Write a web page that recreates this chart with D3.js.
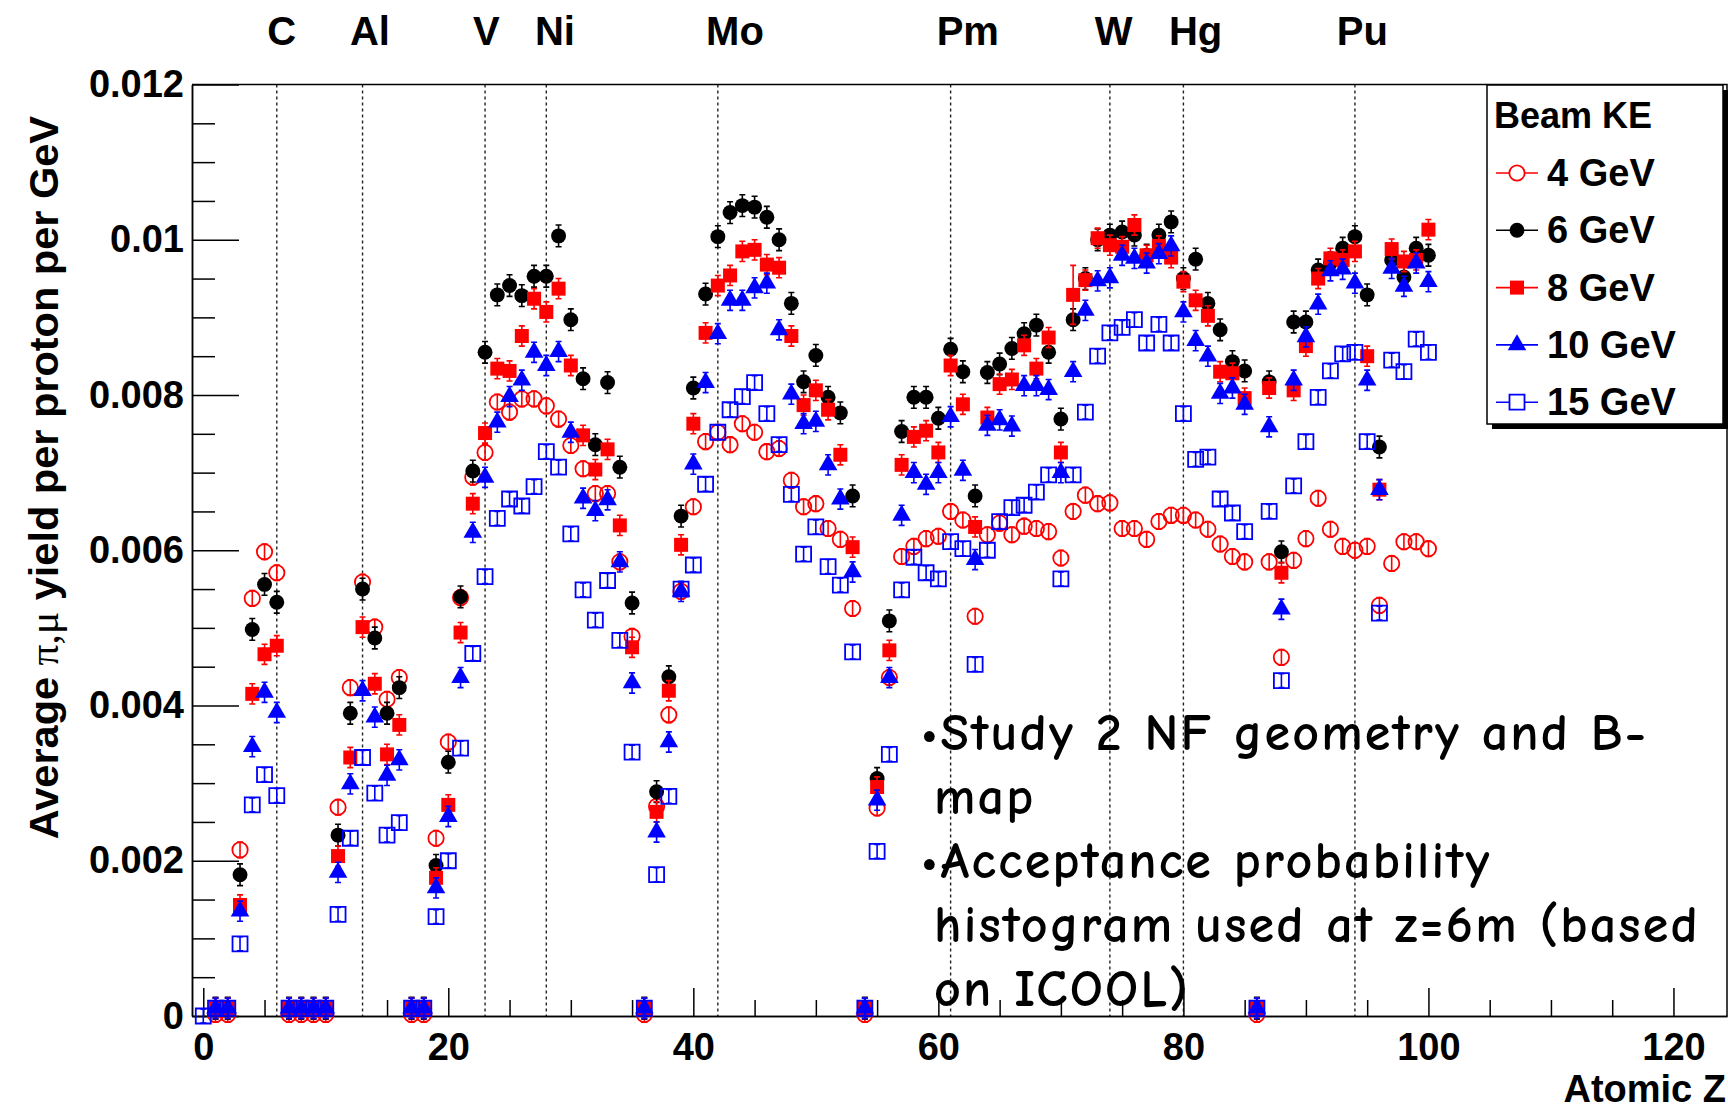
<!DOCTYPE html>
<html>
<head>
<meta charset="utf-8">
<script src="https://cdn.jsdelivr.net/npm/d3@7"></script>
<style>
  body { margin: 0; background: #fff; }
  svg { display: block; }
  .axis text { font-family: "Liberation Sans", Arial, sans-serif; font-weight: bold; font-size: 38px; fill: #000; }
  .axis path, .axis line { stroke: #000; stroke-width: 1.5; }
</style>
</head>
<body>
<div id="chart"></div>
<script>
var svgWidth = 1728;
var svgHeight = 1111;

// plot frame in pixels
var frame = { left: 192, right: 1727, top: 84.5, bottom: 1016 };

// ---- data ----
var atomicZ = [
  1, 2, 3, 4, 5, 6, 7, 8, 9, 10, 11, 12, 13, 14, 15, 16, 17, 18, 19, 20,
  21, 22, 23, 24, 25, 26, 27, 28, 29, 30, 31, 32, 33, 34, 35, 36, 37, 38, 39, 40,
  41, 42, 43, 44, 45, 46, 47, 48, 49, 50, 51, 52, 53, 54, 55, 56, 57, 58, 59, 60,
  61, 62, 63, 64, 65, 66, 67, 68, 69, 70, 71, 72, 73, 74, 75, 76, 77, 78, 79, 80,
  81, 82, 83, 84, 85, 86, 87, 88, 89, 90, 91, 92, 93, 94, 95, 96, 97, 98, 99, 100
];

// 15 GeV also has a point at Z = 0
var atomicZ15 = [0].concat(atomicZ);

var yield4 = [
  0.00002, 0.00002, 0.00214, 0.00538, 0.00598, 0.00571, 0.00002, 0.00002, 0.00002, 0.00002,
  0.00269, 0.00423, 0.00559, 0.00501, 0.00408, 0.00436, 0.00002, 0.00002, 0.00229, 0.00353,
  0.00539, 0.00694, 0.00726, 0.00791, 0.00778, 0.00795, 0.00795, 0.00786, 0.00769, 0.00735,
  0.00705, 0.00673, 0.00673, 0.00585, 0.00489, 0.00002, 0.0027, 0.00388, 0.00547, 0.00656,
  0.0074, 0.00752, 0.00736, 0.00763, 0.00752, 0.00727, 0.00731, 0.0069, 0.00656, 0.0066,
  0.00628, 0.00614, 0.00525, 0.00002, 0.00268, 0.00436, 0.00592, 0.00605, 0.00615, 0.00618,
  0.0065, 0.00639, 0.00515, 0.0062, 0.00635, 0.0062, 0.00631, 0.00628, 0.00624, 0.0059,
  0.0065, 0.00671, 0.0066, 0.00661, 0.00628, 0.00628, 0.00614, 0.00637, 0.00645, 0.00645,
  0.00639, 0.00627, 0.00608, 0.00592, 0.00585, 0.00002, 0.00585, 0.00462, 0.00587, 0.00615,
  0.00667, 0.00627, 0.00605, 0.006, 0.00605, 0.00529, 0.00583, 0.00611, 0.00611, 0.00602
];

var yield6 = [
  0.0001, 0.0001, 0.00182, 0.00498, 0.00556, 0.00533, 0.0001, 0.0001, 0.0001, 0.0001,
  0.00233, 0.0039, 0.0055, 0.00487, 0.0039, 0.00423, 0.0001, 0.0001, 0.00194, 0.00327,
  0.0054, 0.00702, 0.00855, 0.00929, 0.00941, 0.00928, 0.00953, 0.00953, 0.01005, 0.00897,
  0.00821, 0.00736, 0.00816, 0.00707, 0.00532, 0.0001, 0.00289, 0.00437, 0.00644, 0.00809,
  0.0093, 0.01004, 0.01035, 0.01044, 0.01042, 0.01029, 0.01, 0.00918, 0.00817, 0.00851,
  0.00797, 0.00777, 0.0067, 0.0001, 0.00306, 0.00509, 0.00753, 0.00797, 0.00797, 0.0077,
  0.00859, 0.0083, 0.0067, 0.00829, 0.0084, 0.0086, 0.00879, 0.0089, 0.00855, 0.00769,
  0.00897, 0.0095, 0.01, 0.01006, 0.0101, 0.01006, 0.0098, 0.01006, 0.01023, 0.0095,
  0.00975, 0.00918, 0.00884, 0.00843, 0.00831, 0.0001, 0.00817, 0.00598, 0.00894, 0.00894,
  0.00961, 0.0097, 0.00989, 0.01004, 0.00929, 0.00733, 0.00974, 0.00952, 0.00989, 0.0098
];

var yield8 = [
  0.0001, 0.0001, 0.00143, 0.00415, 0.00466, 0.00477, 0.0001, 0.0001, 0.0001, 0.0001,
  0.00206, 0.00333, 0.00501, 0.00428, 0.00337, 0.00375, 0.0001, 0.0001, 0.00178, 0.00272,
  0.00494, 0.0066, 0.00751, 0.00834, 0.00831, 0.00876, 0.00924, 0.00907, 0.00937, 0.00838,
  0.00748, 0.00704, 0.0073, 0.00632, 0.00475, 0.0001, 0.00263, 0.00419, 0.00607, 0.00763,
  0.0088, 0.00941, 0.00954, 0.00985, 0.00987, 0.00968, 0.00964, 0.00876, 0.00787, 0.00806,
  0.00781, 0.00723, 0.00604, 0.0001, 0.00295, 0.00471, 0.0071, 0.00746, 0.00754, 0.00726,
  0.00838, 0.00788, 0.0063, 0.00771, 0.00814, 0.0082, 0.00864, 0.00834, 0.00874, 0.00726,
  0.00929, 0.00948, 0.01002, 0.00993, 0.00991, 0.01019, 0.0098, 0.00992, 0.00977, 0.00946,
  0.00922, 0.00902, 0.0083, 0.00828, 0.00796, 0.0001, 0.00809, 0.00571, 0.00806, 0.00863,
  0.0095, 0.00976, 0.00974, 0.00985, 0.0085, 0.00678, 0.00988, 0.00972, 0.00974, 0.01013
];

var yield10 = [
  0.0001, 0.0001, 0.00135, 0.00347, 0.00417, 0.00391, 0.0001, 0.0001, 0.0001, 0.0001,
  0.00185, 0.00299, 0.00419, 0.00385, 0.0031, 0.0033, 0.0001, 0.0001, 0.00165, 0.00257,
  0.00436, 0.00623, 0.00694, 0.00765, 0.00798, 0.00819, 0.00855, 0.00838, 0.00856, 0.00752,
  0.00667, 0.00651, 0.00665, 0.00585, 0.00429, 0.0001, 0.00237, 0.00353, 0.00547, 0.00711,
  0.00816, 0.00879, 0.00922, 0.00922, 0.00938, 0.00944, 0.00884, 0.00801, 0.00763, 0.00766,
  0.0071, 0.00666, 0.00572, 0.0001, 0.00278, 0.00436, 0.00645, 0.007, 0.00685, 0.007,
  0.00772, 0.00703, 0.00588, 0.00761, 0.00768, 0.0076, 0.00812, 0.00812, 0.00807, 0.007,
  0.0083, 0.00909, 0.00947, 0.00951, 0.0098, 0.00976, 0.0097, 0.00982, 0.00992, 0.00907,
  0.0087, 0.0085, 0.00802, 0.00809, 0.00788, 0.0001, 0.00759, 0.00524, 0.00819, 0.00875,
  0.00917, 0.0096, 0.00962, 0.00944, 0.00819, 0.00678, 0.00963, 0.0094, 0.0097, 0.00946
];

var yield15 = [
  0,
  0.0001, 0.0001, 0.00093, 0.00272, 0.00311, 0.00284, 0.0001, 0.0001, 0.0001, 0.0001,
  0.00131, 0.00229, 0.00333, 0.00287, 0.00233, 0.00249, 0.0001, 0.0001, 0.00128, 0.002,
  0.00345, 0.00467, 0.00566, 0.00641, 0.00666, 0.00657, 0.00682, 0.00727, 0.00707, 0.00621,
  0.00549, 0.0051, 0.00561, 0.00484, 0.0034, 0.0001, 0.00182, 0.00283, 0.0055, 0.00581,
  0.00685, 0.00752, 0.00781, 0.00798, 0.00816, 0.00776, 0.00736, 0.00672, 0.00595, 0.0063,
  0.00579, 0.00555, 0.00469, 0.0001, 0.00212, 0.00337, 0.00549, 0.00591, 0.00571, 0.00563,
  0.00611, 0.00602, 0.00453, 0.006, 0.00637, 0.00655, 0.00658, 0.00675, 0.00697, 0.00563,
  0.00697, 0.00778, 0.0085, 0.0088, 0.00887, 0.00897, 0.00867, 0.00891, 0.00867, 0.00776,
  0.00717, 0.0072, 0.00666, 0.00648, 0.00624, 0.0001, 0.0065, 0.00432, 0.00683, 0.0074,
  0.00797, 0.00831, 0.00853, 0.00855, 0.0074, 0.00519, 0.00845, 0.0083, 0.00872, 0.00855
];

// typical error bar half-height for each beam energy, plus the one big one
var yieldErr = [0.0001, 0.00014, 0.00013, 0.00013, 0.00009];
var bigErrZ = 71, bigErr8 = 0.00038;

var seriesLabels = ["4 GeV", "6 GeV", "8 GeV", "10 GeV", "15 GeV"];

var elementNames = ["C", "Al", "V", "Ni", "Mo", "Pm", "W", "Hg", "Pu"];
var elementZ = [6, 13, 23, 28, 42, 61, 74, 80, 94];
// where the names sit along the axis (not exactly over their lines)
var elementLabelZ = [6.4, 13.6, 23.1, 28.7, 43.4, 62.4, 74.3, 81.0, 94.6];

var xTickValues = [0, 20, 40, 60, 80, 100, 120];
var yTickValues = [0, 0.002, 0.004, 0.006, 0.008, 0.01, 0.012];
var yTickLabels = ["0", "0.002", "0.004", "0.006", "0.008", "0.01", "0.012"];

var noteLines = [
  "\u2022Study 2 NF geometry and B-",
  "map",
  "\u2022Acceptance probability",
  "histogram used at z=6m (based",
  "on ICOOL)"
];

// ---- series table ----
var series = [
  { z: atomicZ,   v: yield4,  err: yieldErr[0], color: "#ff0000", shape: d3.symbolCircle,   size: 185, open: true },
  { z: atomicZ,   v: yield6,  err: yieldErr[1], color: "#000000", shape: d3.symbolCircle,   size: 175, open: false },
  { z: atomicZ,   v: yield8,  err: yieldErr[2], color: "#ff0000", shape: d3.symbolSquare,   size: 196, open: false },
  { z: atomicZ,   v: yield10, err: yieldErr[3], color: "#0000ff", shape: d3.symbolTriangle, size: 150, open: false },
  { z: atomicZ15, v: yield15, err: yieldErr[4], color: "#0000ff", shape: d3.symbolSquare,   size: 225, open: true }
];
series.forEach(function(s, i) {
  s.label = seriesLabels[i];
  s.points = s.z.map(function(z, j) {
    var e = s.err;
    if (i === 2 && z === bigErrZ) e = bigErr8;
    return { z: z, v: s.v[j], e: e };
  });
});

var svg = d3.select("#chart").append("svg")
  .attr("width", svgWidth)
  .attr("height", svgHeight);

// scales
var xScale = d3.scaleLinear()
  .domain([-0.92, 124.37])
  .range([frame.left, frame.right]);

var yScale = d3.scaleLinear()
  .domain([0, 0.012])
  .range([frame.bottom, frame.top]);

var fontMain = "'Liberation Sans', Arial, sans-serif";

// element guide lines and names
svg.append("g").selectAll("line")
  .data(elementZ)
  .enter()
  .append("line")
  .attr("x1", d => xScale(d))
  .attr("x2", d => xScale(d))
  .attr("y1", frame.top)
  .attr("y2", frame.bottom)
  .attr("stroke", "#222")
  .attr("stroke-width", 1.4)
  .attr("stroke-dasharray", "3,3");

svg.append("g").selectAll("text")
  .data(elementNames)
  .enter()
  .append("text")
  .attr("x", (d, i) => xScale(elementLabelZ[i]))
  .attr("y", 45)
  .attr("text-anchor", "middle")
  .style("font-family", fontMain)
  .style("font-weight", "bold")
  .style("font-size", "40px")
  .text(d => d);

// frame (top and right)
svg.append("path")
  .attr("d", `M${frame.left},${frame.top}H${frame.right}V${frame.bottom}`)
  .attr("fill", "none")
  .attr("stroke", "#000")
  .attr("stroke-width", 1.5);

// axes: major and minor ticks point inward
var leftAxis = d3.axisLeft(yScale)
  .tickValues(yTickValues)
  .tickFormat((d, i) => yTickLabels[i])
  .tickSizeInner(-47)
  .tickSizeOuter(0)
  .tickPadding(8);

var leftMinor = d3.axisLeft(yScale)
  .tickValues(d3.range(0, 0.012, 0.0005).filter(d => Math.abs(d / 0.002 - Math.round(d / 0.002)) > 1e-6))
  .tickFormat("")
  .tickSizeInner(-23)
  .tickSizeOuter(0);

var bottomAxis = d3.axisBottom(xScale)
  .tickValues(xTickValues)
  .tickFormat(d3.format("d"))
  .tickSizeInner(-28)
  .tickSizeOuter(0)
  .tickPadding(17);

var bottomMinor = d3.axisBottom(xScale)
  .tickValues(d3.range(5, 125, 5).filter(d => d % 20 !== 0))
  .tickFormat("")
  .tickSizeInner(-16)
  .tickSizeOuter(0);

svg.append("g").attr("class", "axis").attr("transform", `translate(${frame.left},0)`).call(leftMinor);
svg.append("g").attr("class", "axis").attr("transform", `translate(${frame.left},0)`).call(leftAxis);
svg.append("g").attr("class", "axis").attr("transform", `translate(0,${frame.bottom})`).call(bottomMinor);
svg.append("g").attr("class", "axis").attr("transform", `translate(0,${frame.bottom})`).call(bottomAxis);

// axis titles
var yTitle = svg.append("text")
  .attr("transform", "translate(58, 116) rotate(-90)")
  .attr("text-anchor", "end")
  .style("font-family", fontMain)
  .style("font-weight", "bold")
  .style("font-size", "41.5px");
yTitle.append("tspan").text("Average ");
yTitle.append("tspan")
  .style("font-family", "'Liberation Serif', 'DejaVu Serif', serif")
  .style("font-weight", "normal")
  .text("\u03c0,\u03bc");
yTitle.append("tspan").text(" yield per proton per GeV");

svg.append("text")
  .attr("x", 1726)
  .attr("y", 1102)
  .attr("text-anchor", "end")
  .style("font-family", fontMain)
  .style("font-weight", "bold")
  .style("font-size", "38px")
  .text("Atomic Z");

// Draw each data set: error bars, then markers
series.forEach(function(s) {
  var g = svg.append("g");

  g.selectAll("path.err")
    .data(s.points)
    .enter()
    .append("path")
    .attr("class", "err")
    .attr("d", function(d) {
      var x = xScale(d.z), y1 = yScale(d.v - d.e), y2 = yScale(d.v + d.e);
      return `M${x},${y1}V${y2}M${x - 3},${y1}H${x + 3}M${x - 3},${y2}H${x + 3}`;
    })
    .attr("fill", "none")
    .attr("stroke", s.color)
    .attr("stroke-width", 1.6);

  g.selectAll("path.mark")
    .data(s.points)
    .enter()
    .append("path")
    .attr("class", "mark")
    .attr("transform", d => `translate(${xScale(d.z)},${yScale(d.v)})`)
    .attr("d", d3.symbol().type(s.shape).size(s.size))
    .attr("fill", s.open ? "none" : s.color)
    .attr("stroke", s.open ? s.color : "none")
    .attr("stroke-width", 1.8);
});

// legend
var legend = svg.append("g");
var lg = { x: 1487, y: 85, w: 236, h: 339 };

legend.append("rect")
  .attr("x", lg.x + 5).attr("y", lg.y + 5)
  .attr("width", lg.w).attr("height", lg.h)
  .attr("fill", "#000");
legend.append("rect")
  .attr("x", lg.x).attr("y", lg.y)
  .attr("width", lg.w).attr("height", lg.h)
  .attr("fill", "#fff")
  .attr("stroke", "#000")
  .attr("stroke-width", 1.5);

legend.append("text")
  .attr("x", lg.x + 7)
  .attr("y", 128)
  .style("font-family", fontMain)
  .style("font-weight", "bold")
  .style("font-size", "36px")
  .text("Beam KE");

var entry = legend.selectAll("g.entry")
  .data(series)
  .enter()
  .append("g")
  .attr("class", "entry")
  .attr("transform", (d, i) => `translate(0,${173 + i * 57.3})`);

entry.append("line")
  .attr("x1", 1496).attr("x2", 1538)
  .attr("stroke", d => d.color)
  .attr("stroke-width", 1.6);

entry.append("path")
  .attr("transform", "translate(1517,0)")
  .attr("d", d => d3.symbol().type(d.shape).size(d.size)())
  .attr("fill", d => d.open ? "#fff" : d.color)
  .attr("stroke", d => d.open ? d.color : "none")
  .attr("stroke-width", 1.8);

entry.append("text")
  .attr("x", 1547)
  .attr("y", 13)
  .style("font-family", fontMain)
  .style("font-weight", "bold")
  .style("font-size", "38px")
  .text(d => d.label);

// note in the lower right; lines without a bullet are indented a little
svg.append("g").selectAll("text")
  .data(noteLines)
  .enter()
  .append("text")
  .attr("x", d => d.charAt(0) === "\u2022" ? 921 : 934)
  .attr("y", (d, i) => 750 + i * 64)
  .style("font-family", "'Comic Sans MS', 'Comic Neue', 'Open Sans', sans-serif")
  .style("font-size", "52px")
  .style("font-weight", "bold")
  .style("letter-spacing", "2.2px")
  .style("fill", "#000")
  .text(d => d);
</script>
</body>
</html>
